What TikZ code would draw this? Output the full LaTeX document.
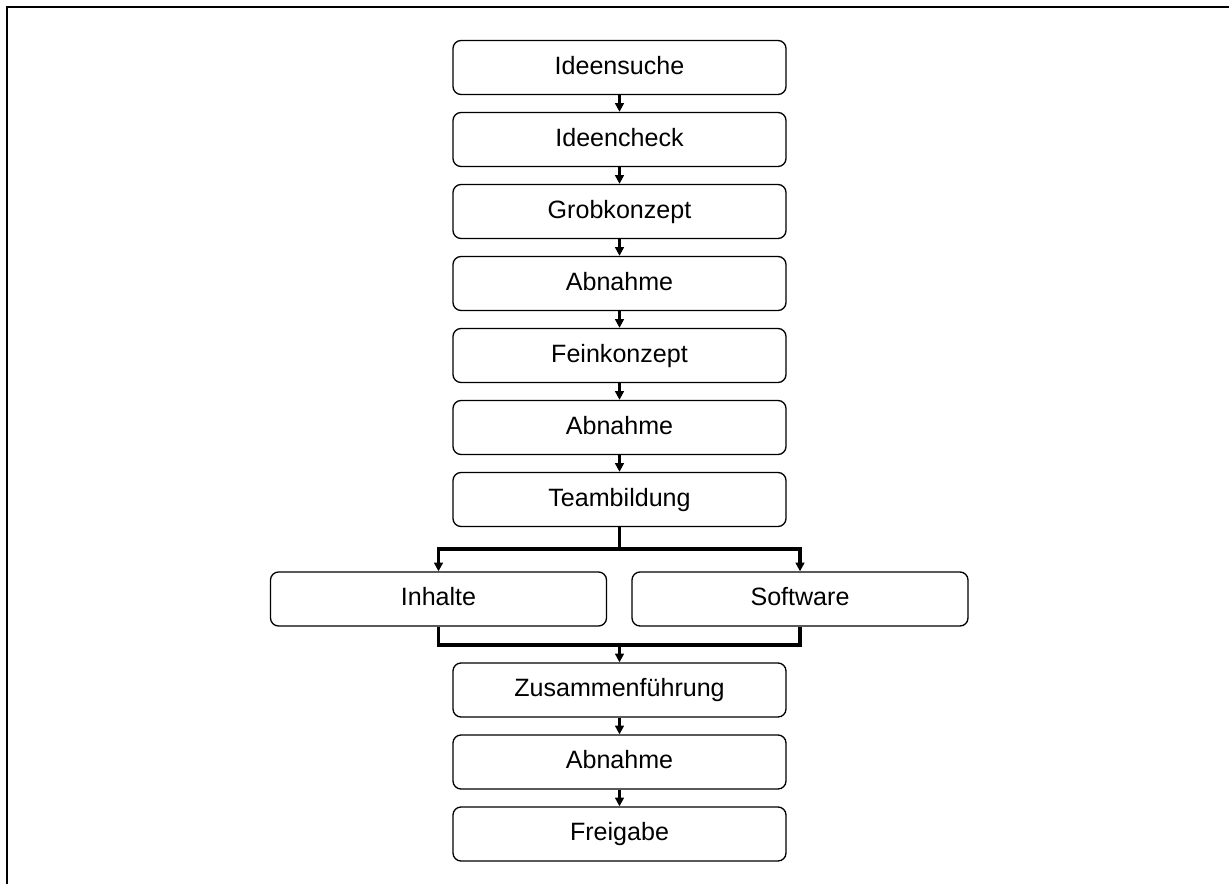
\documentclass[tikz,border=0pt]{standalone}
\usepackage{fontspec}
\setmainfont{Liberation Sans}
\usetikzlibrary{arrows.meta}
\begin{document}
\begin{tikzpicture}[x=0.75pt,y=-0.75pt,
  stage/.style={draw=black,line width=1pt,rounded corners=6pt,fill=white,
    minimum width=249.75pt,minimum height=40.5pt,inner sep=0pt,
    text height=12.5pt,text depth=2.5pt,font=\fontsize{18.8}{21}\selectfont},
  widestage/.style={stage,minimum width=252pt},
  flow/.style={line width=1.8pt,-{Triangle[length=6.5pt,width=6.5pt]}},
  branch/.style={line width=2.3pt},
  branchto/.style={line width=2.3pt,-{Triangle[length=6.5pt,width=6.5pt]}},
  frame/.style={line width=1.8pt}]
\useasboundingbox (0,0) rectangle (1229,884);
\draw[frame] (6,7) -- (1229,7);
\draw[frame] (7,6) -- (7,884);
\node[stage] (b1) at (619.5,67.5) {Ideensuche};
\node[stage] (b2) at (619.5,139.5) {Ideencheck};
\node[stage] (b3) at (619.5,211.5) {Grobkonzept};
\node[stage] (b4) at (619.5,283.5) {Abnahme};
\node[stage] (b5) at (619.5,355.5) {Feinkonzept};
\node[stage] (b6) at (619.5,427.5) {Abnahme};
\node[stage] (b7) at (619.5,499.5) {Teambildung};
\node[widestage] (inh) at (438.5,599) {Inhalte};
\node[widestage] (sw) at (800,599) {Software};
\node[stage] (b8) at (619.5,690) {Zusammenführung};
\node[stage] (b9) at (619.5,762) {Abnahme};
\node[stage] (b10) at (619.5,834) {Freigabe};
\foreach \a/\b in {b1/b2,b2/b3,b3/b4,b4/b5,b5/b6,b6/b7,b8/b9,b9/b10}
  \draw[flow] (\a.south) -- (\b.north);
\coordinate (split) at (619.5,549);
\coordinate (merge) at (619.5,645);
\draw[branch] (b7.south) -- (split);
\draw[branchto] (split) -| (inh.north);
\draw[branchto] (split) -| (sw.north);
\draw[branch] (inh.south) |- (merge);
\draw[branch] (sw.south) |- (merge);
\draw[flow] (merge) -- (b8.north);
\end{tikzpicture}
\end{document}
